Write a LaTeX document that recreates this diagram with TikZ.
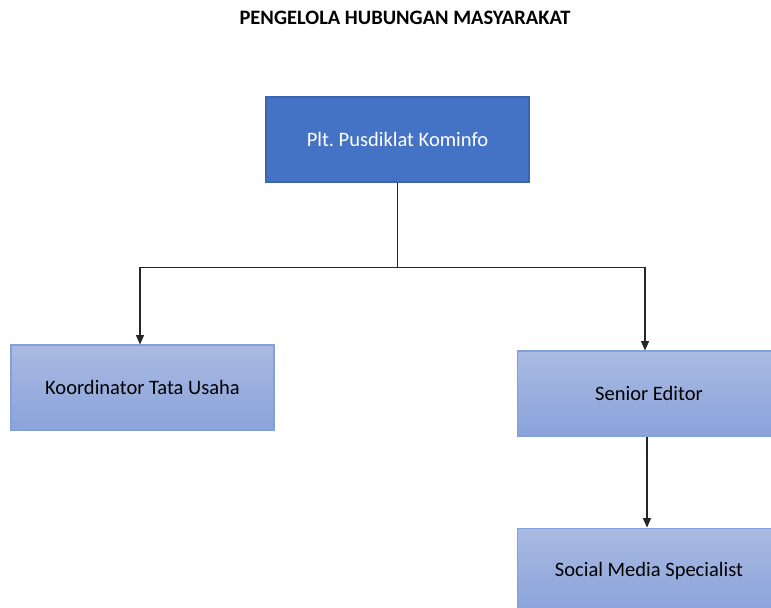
\documentclass[tikz,border=0pt]{standalone}
\usepackage{fontspec}
\setmainfont{Carlito}
\usetikzlibrary{arrows.meta,positioning}
\definecolor{headblue}{RGB}{68,114,196}
\definecolor{headline}{RGB}{60,100,175}
\definecolor{boxtop}{RGB}{170,186,226}
\definecolor{boxbot}{RGB}{138,163,218}
\definecolor{boxline}{RGB}{130,160,218}
\tikzset{
  headbox/.style={draw=headline, line width=0.9pt, fill=headblue, text=white, minimum width=7.89cm, minimum height=2.55cm, align=center, font=\fontsize{17.5}{21}\selectfont},
  unitbox/.style={draw=boxline, line width=0.9pt, top color=boxtop, bottom color=boxbot, minimum width=7.89cm, minimum height=2.55cm, align=center, font=\fontsize{17.5}{21}\selectfont},
  link/.style={line width=0.9pt, draw=black!85},
  flow/.style={-{Triangle[length=2.8mm, width=2.4mm]}, line width=0.9pt, draw=black!85}
}
\frenchspacing
\begin{document}
\begin{tikzpicture}[x=0.03cm, y=-0.03cm, node distance=2.73cm]
  \clip (0,0) rectangle (771,608);
  \node[font=\bfseries\fontsize{17.5}{21}\selectfont] (title) at (405,18) {PENGELOLA HUBUNGAN MASYARAKAT};

  \node[headbox] (plt) at (397.5,139.5) {Plt. Pusdiklat Kominfo};
  \node[unitbox] (ktu) at (142.5,387.5) {Koordinator Tata Usaha};
  \node[unitbox] (editor) at (649,393.5) {Senior Editor};
  \node[unitbox, below=of editor] (sosmed) {Social Media Specialist};

  \draw[link] (plt.south) -- ++(0,85) coordinate (split);
  \draw[flow] (split) -| ([xshift=-2.5*0.03cm]ktu.north);
  \draw[flow] (split) -| ([xshift=-4*0.03cm]editor.north);
  \draw[flow] ([xshift=-2*0.03cm]editor.south) -- ([xshift=-2*0.03cm]sosmed.north);
\end{tikzpicture}
\end{document}
